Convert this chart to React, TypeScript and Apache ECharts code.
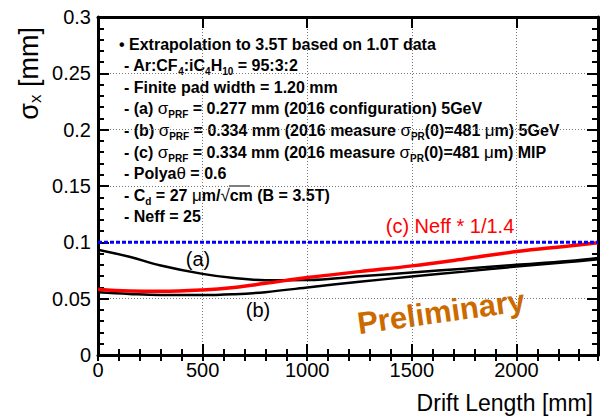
import React, { useEffect, useRef } from "react";
import * as echarts from "echarts";

// ---- data ----
const X_MAX = 2390;
const X_POINTS = [0, 150, 300, 500, 650, 800, 1000, 1250, 1500, 1750, 2000, 2250, 2390];
const SERIES_A = [0.0935, 0.0872, 0.0795, 0.072, 0.0683, 0.0664, 0.0665, 0.0698, 0.0732, 0.0766, 0.08, 0.0834, 0.0862];
const SERIES_B = [0.0556, 0.0542, 0.0533, 0.0532, 0.054, 0.0558, 0.06, 0.065, 0.0696, 0.074, 0.0785, 0.0825, 0.085];
const SERIES_C = [0.0584, 0.0568, 0.0566, 0.0578, 0.06, 0.0636, 0.0687, 0.074, 0.0791, 0.0853, 0.0918, 0.0968, 0.0997];
const LIMIT_LEVEL = 0.1;
const X_TICKS = [0, 500, 1000, 1500, 2000];
const Y_TICKS = [0, 0.05, 0.1, 0.15, 0.2, 0.25, 0.3];

const LEGEND_LINES = [
  "{b|• Extrapolation to 3.5T based on 1.0T data}",
  "{b|- Ar:CF}{s|4}{b|:iC}{s|4}{b|H}{s|10}{b| = 95:3:2}",
  "{b|- Finite pad width = 1.20 mm}",
  "{b|- (a) }{g|σ}{s|PRF}{b| = 0.277 mm (2016 configuration) 5GeV}",
  "{b|- (b) }{g|σ}{s|PRF}{b| = 0.334 mm (2016 measure }{g|σ}{s|PR}{b|(0)=481 }{g|μ}{b|m) 5GeV}",
  "{b|- (c) }{g|σ}{s|PRF}{b| = 0.334 mm (2016 measure }{g|σ}{s|PR}{b|(0)=481 }{g|μ}{b|m) MIP}",
  "{b|- Polya}{g|θ}{b| = 0.6}",
  "{b|- C}{s|d}{b| = 27 }{g|μ}{b|m/}{g|√}{b|cm (B = 3.5T)}",
  "{b|- Neff = 25}",
];

const FONT = "'Liberation Sans', Arial, Helvetica, sans-serif";

function zip(xs: number[], ys: number[]) {
  return xs.map((x, i) => [x, ys[i]]);
}

export default function App() {
  const ref = useRef<HTMLDivElement>(null);
  useEffect(() => {
    if (!ref.current) return;
    const chart = echarts.init(ref.current, undefined, { renderer: "svg" });

    const rich = {
      b: { fontSize: 16, fontWeight: "bold", fontFamily: FONT, lineHeight: 22, fill: "#000" },
      g: { fontSize: 17, fontWeight: "normal", fontFamily: FONT, lineHeight: 22, fill: "#000" },
      s: { fontSize: 10, fontWeight: "bold", fontFamily: FONT, lineHeight: 11, verticalAlign: "bottom", fill: "#000" },
    };

    const legendY0 = 44;
    const legendDy = 21.6;
    const legendGraphics = LEGEND_LINES.map((t, i) => ({
      type: "text",
      x: i === 0 ? 119 : 124,
      y: legendY0 + i * legendDy,
      silent: true,
      style: { text: t, rich, verticalAlign: "middle", align: "left" },
    }));

    const mainAxisCommon = {
      type: "value",
      axisLine: { show: true, onZero: false, lineStyle: { color: "#000", width: 3 } },
      axisTick: { show: true, inside: true, length: 11, lineStyle: { color: "#000", width: 2 } },
    };
    const minorX = (position: string) => ({
      type: "value",
      min: 0,
      max: X_MAX,
      interval: 100,
      position,
      axisLine: { show: false },
      axisTick: { show: true, inside: true, length: 6, lineStyle: { color: "#000", width: 2 } },
      axisLabel: { show: false },
      splitLine: { show: false },
    });

    chart.setOption({
      animation: false,
      backgroundColor: "#fff",
      grid: { left: 98, right: 8, top: 17, bottom: 62, containLabel: false },
      xAxis: [
        {
          ...mainAxisCommon,
          min: 0,
          max: X_MAX,
          interval: 500,
          position: "bottom",
          axisLabel: {
            color: "#000",
            fontSize: 20,
            fontFamily: FONT,
            margin: 5,
            showMaxLabel: false,
            formatter: (v: number) => (X_TICKS.includes(v) ? String(v) : ""),
          },
          splitLine: { show: true, lineStyle: { color: "#777", type: [1, 2], width: 1 } },
        },
        minorX("bottom"),
        {
          ...mainAxisCommon,
          min: 0,
          max: X_MAX,
          interval: 500,
          position: "top",
          axisLabel: { show: false },
          splitLine: { show: false },
        },
        minorX("top"),
      ],
      yAxis: [
        {
          ...mainAxisCommon,
          min: 0,
          max: 0.3,
          interval: 0.05,
          position: "left",
          minorTick: { show: true, splitNumber: 5, length: 6, lineStyle: { color: "#000", width: 2 } },
          axisLabel: {
            color: "#000",
            fontSize: 20,
            fontFamily: FONT,
            margin: 7,
            formatter: (v: number) => {
              const t = Y_TICKS.find((k) => Math.abs(k - v) < 1e-9);
              return t === undefined ? "" : String(t);
            },
          },
          splitLine: { show: true, lineStyle: { color: "#777", type: [1, 2], width: 1 } },
        },
        {
          ...mainAxisCommon,
          min: 0,
          max: 0.3,
          interval: 0.05,
          position: "right",
          minorTick: { show: true, splitNumber: 5, length: 6, lineStyle: { color: "#000", width: 2 } },
          axisLabel: { show: false },
          splitLine: { show: false },
        },
      ],
      series: [
        {
          type: "line",
          xAxisIndex: 0,
          yAxisIndex: 0,
          data: zip(X_POINTS, SERIES_A),
          smooth: 0.4,
          showSymbol: false,
          lineStyle: { color: "#000", width: 2.5 },
          z: 3,
        },
        {
          type: "line",
          xAxisIndex: 0,
          yAxisIndex: 0,
          data: zip(X_POINTS, SERIES_B),
          smooth: 0.4,
          showSymbol: false,
          lineStyle: { color: "#000", width: 2.5 },
          z: 3,
        },
        {
          type: "line",
          xAxisIndex: 0,
          yAxisIndex: 0,
          data: zip(X_POINTS, SERIES_C),
          smooth: 0.4,
          showSymbol: false,
          lineStyle: { color: "#ff0000", width: 3.5 },
          z: 4,
        },
        {
          type: "line",
          xAxisIndex: 0,
          yAxisIndex: 0,
          data: [
            [0, LIMIT_LEVEL],
            [X_MAX, LIMIT_LEVEL],
          ],
          showSymbol: false,
          lineStyle: { color: "#0000ff", width: 3, type: [4, 2] },
          z: 5,
        },
      ],
      graphic: [
        ...legendGraphics,
        {
          type: "line",
          silent: true,
          shape: { x1: 229, y1: 186, x2: 250, y2: 186 },
          style: { stroke: "#000", lineWidth: 1 },
        },
        {
          type: "text",
          x: 198,
          y: 259,
          silent: true,
          style: { text: "(a)", font: `20px ${FONT}`, fill: "#000", align: "center", verticalAlign: "middle" },
        },
        {
          type: "text",
          x: 258,
          y: 310,
          silent: true,
          style: { text: "(b)", font: `20px ${FONT}`, fill: "#000", align: "center", verticalAlign: "middle" },
        },
        {
          type: "text",
          x: 450,
          y: 226,
          silent: true,
          style: { text: "(c) Neff * 1/1.4", font: `20px ${FONT}`, fill: "#ff0000", align: "center", verticalAlign: "middle" },
        },
        {
          type: "text",
          x: 441,
          y: 312,
          rotation: (8 * Math.PI) / 180,
          silent: true,
          style: { text: "Preliminary", font: `bold 31px ${FONT}`, fill: "#cc6a00", align: "center", verticalAlign: "middle" },
        },
        {
          type: "text",
          x: 593,
          y: 403,
          silent: true,
          style: { text: "Drift Length [mm]", font: `23px ${FONT}`, fill: "#000", align: "right", verticalAlign: "middle" },
        },
        {
          type: "text",
          x: 29,
          y: 27,
          rotation: Math.PI / 2,
          silent: true,
          style: {
            text: "{t|σ}{x|x}{t| [mm]}",
            align: "right",
            verticalAlign: "middle",
            rich: {
              t: { fontSize: 27, fontFamily: FONT, lineHeight: 30, fill: "#000" },
              x: { fontSize: 17, fontFamily: FONT, lineHeight: 17, verticalAlign: "bottom", fill: "#000" },
            },
          },
        },
      ],
    });

    return () => chart.dispose();
  }, []);

  return <div ref={ref} style={{ position: "absolute", left: 0, top: 0, width: 606, height: 417 }} />;
}
